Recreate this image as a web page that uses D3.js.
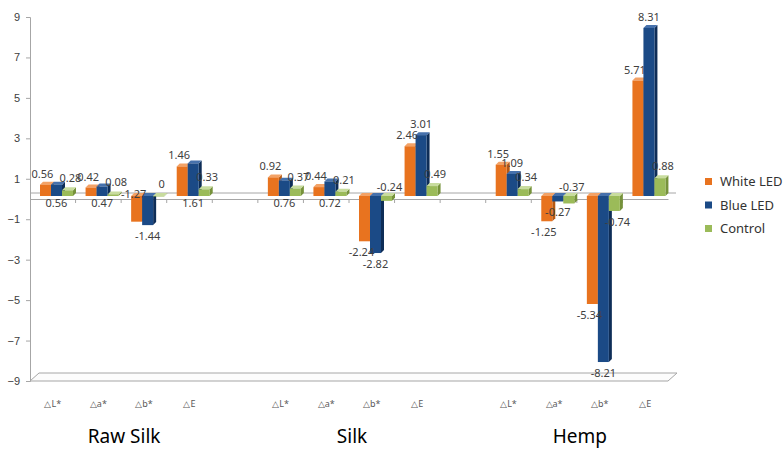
<!DOCTYPE html>
<html>
<head>
<meta charset="utf-8">
<script src="https://cdn.jsdelivr.net/npm/d3@7"></script>
<style>
  html, body { margin: 0; padding: 0; background: #ffffff; }
  svg { display: block; font-family: "Noto Sans", "Open Sans", sans-serif; }
</style>
</head>
<body>
<svg id="chart" width="784" height="450"></svg>
<script>
// Colour differences by fabric, metric and light source
const fabrics = ["Raw Silk", "Silk", "Hemp"];
const metrics = ["△L*", "△a*", "△b*", "△E"];
const seriesNames = ["White LED", "Blue LED", "Control"];
const whiteLED = [0.56, 0.42, -1.27, 1.46, 0.92, 0.44, -2.24, 2.46, 1.55, -1.25, -5.34, 5.71];
const blueLED  = [0.56, 0.47, -1.44, 1.61, 0.76, 0.72, -2.82, 3.01, 1.09, -0.27, -8.21, 8.31];
const control  = [0.28, 0.08, 0, 0.33, 0.37, 0.21, -0.24, 0.49, 0.34, -0.37, -0.74, 0.88];
const yTicks = [9, 7, 5, 3, 1, -1, -3, -5, -7, -9];

const seriesValues = [whiteLED, blueLED, control];
const palette = [
  { front: "#E8731F", side: "#B65812", top: "#F3A266" },
  { front: "#1B4A86", side: "#0E2D57", top: "#4671AC" },
  { front: "#9BBB59", side: "#76923B", top: "#C8DC9E" }
];

const svg = d3.select("#chart");

// Slots: four metrics per fabric, one empty slot between fabrics
const slots = [];
fabrics.forEach((f, fi) => {
  metrics.forEach(m => slots.push(f + "|" + m));
  if (fi < fabrics.length - 1) slots.push("gap" + fi);
});
const dataSlots = slots.filter(s => !s.startsWith("gap"));

const left = 30, right = 668, depth = 8;
const x = d3.scaleBand().domain(slots).range([left, right]).padding(0);
const y = d3.scaleLinear().domain([-9, 9]).range([381, 17]);
const inner = d3.scaleBand().domain(seriesNames).range([7, 40]).padding(0);

const gridCol = "#A6A6A6";

// Floor slab
const fy = y(-9);
svg.append("path")
  .attr("d", `M${left},${fy} L${right},${fy} L${right + depth + 1},${fy - depth} L${left + depth + 1},${fy - depth} Z`)
  .attr("fill", "#FCFCFC").attr("stroke", gridCol).attr("stroke-width", 1);

// Zero plane back edge
svg.append("line")
  .attr("x1", left).attr("x2", right + depth)
  .attr("y1", y(0) - 6).attr("y2", y(0) - 6)
  .attr("stroke", gridCol).attr("stroke-width", 1);

// Value axis
const yAxis = d3.axisLeft(y).tickValues(yTicks).tickSize(4).tickPadding(6).tickFormat(d3.format("d"));
const gy = svg.append("g").attr("transform", `translate(${left},0)`).call(yAxis);
gy.select(".domain").attr("stroke", gridCol);
gy.selectAll(".tick line").attr("stroke", gridCol);
gy.selectAll(".tick text").attr("fill", "#404040").style("font-size", "11px");

// Category axis along zero
const xAxis = d3.axisBottom(x).tickValues([]).tickSizeOuter(0);
const gx = svg.append("g").attr("transform", `translate(0,${y(0)})`).call(xAxis);
gx.select(".domain").attr("stroke", gridCol);
gx.selectAll(".bnd").data(slots.slice(1)).enter().append("line")
  .attr("x1", d => x(d)).attr("x2", d => x(d))
  .attr("y1", 0).attr("y2", 4)
  .attr("stroke", gridCol);

// 3D columns
const off = 3, d3d = 3;
const bars = [];
seriesNames.forEach((s, si) => {
  seriesValues[si].forEach((v, i) => {
    const slot = dataSlots[i];
    const x0 = x(slot) + inner(s) + off;
    const w = inner.bandwidth();
    const yv = y(v) - off, y0 = y(0) - off;
    bars.push({ s, si, v, i, x0, w, yv, y0 });
  });
});

const g = svg.append("g");
bars.forEach(b => {
  const c = palette[b.si];
  const topY = Math.min(b.yv, b.y0), botY = Math.max(b.yv, b.y0);
  const h = Math.max(botY - topY, 0.5);
  const bg = g.append("g");
  // side face
  bg.append("path")
    .attr("d", `M${b.x0 + b.w},${topY} L${b.x0 + b.w + d3d},${topY - d3d} L${b.x0 + b.w + d3d},${topY + h - d3d} L${b.x0 + b.w},${topY + h} Z`)
    .attr("fill", c.side);
  // top face
  bg.append("path")
    .attr("d", `M${b.x0},${topY} L${b.x0 + d3d},${topY - d3d} L${b.x0 + b.w + d3d},${topY - d3d} L${b.x0 + b.w},${topY} Z`)
    .attr("fill", c.top);
  // front face
  bg.append("rect")
    .attr("x", b.x0).attr("y", topY).attr("width", b.w).attr("height", h)
    .attr("fill", c.front);
});

// Value labels
const fmt = v => String(v);
const lbl = svg.append("g").style("font-size", "11px").attr("fill", "#404040").attr("text-anchor", "middle");
bars.forEach(b => {
  const cx = b.x0 + b.w / 2;
  const wv = whiteLED[b.i], bv = blueLED[b.i];
  let tx = cx, ty;
  if (b.si === 0) {
    tx = cx - 3;
    if (b.v >= 0) ty = b.yv - 7;
    else if (Math.abs(b.v) < 2 && bv < b.v) ty = y(0) - 1;
    else ty = b.yv + 15;
  } else if (b.si === 1) {
    if (b.v >= 0) ty = (b.v < 1 || (b.v < 2 && b.v > wv)) ? y(0) + 8 : b.yv - 7;
    else ty = b.yv + 15;
  } else {
    tx = cx + 3;
    if (b.v >= 0) ty = b.yv - 8;
    else ty = Math.abs(b.v) < 0.5 ? y(0) - 8 : b.yv + 15;
  }
  lbl.append("text").attr("x", tx).attr("y", ty).text(fmt(b.v));
});

// Metric labels
svg.append("g").selectAll("text").data(dataSlots).enter().append("text")
  .attr("x", d => x(d) + x.bandwidth() / 2)
  .attr("y", 407)
  .attr("text-anchor", "middle")
  .attr("fill", "#595959")
  .style("font-size", "9px")
  .text(d => d.split("|")[1]);

// Fabric labels
svg.append("g").selectAll("text").data(fabrics).enter().append("text")
  .attr("x", f => (x(f + "|" + metrics[0]) + x(f + "|" + metrics[3]) + x.bandwidth()) / 2 + 3)
  .attr("y", 443)
  .attr("text-anchor", "middle")
  .attr("fill", "#000")
  .style("font-size", "19px")
  .text(f => f);

// Legend
const lg = svg.append("g").attr("transform", "translate(705,178)");
seriesNames.forEach((s, si) => {
  const row = lg.append("g").attr("transform", `translate(0,${si * 23.5})`);
  row.append("rect").attr("width", 7).attr("height", 7).attr("fill", palette[si].front);
  row.append("text").attr("x", 15).attr("y", 8).attr("fill", "#333")
    .style("font-size", "13px").text(s);
});
</script>
</body>
</html>
